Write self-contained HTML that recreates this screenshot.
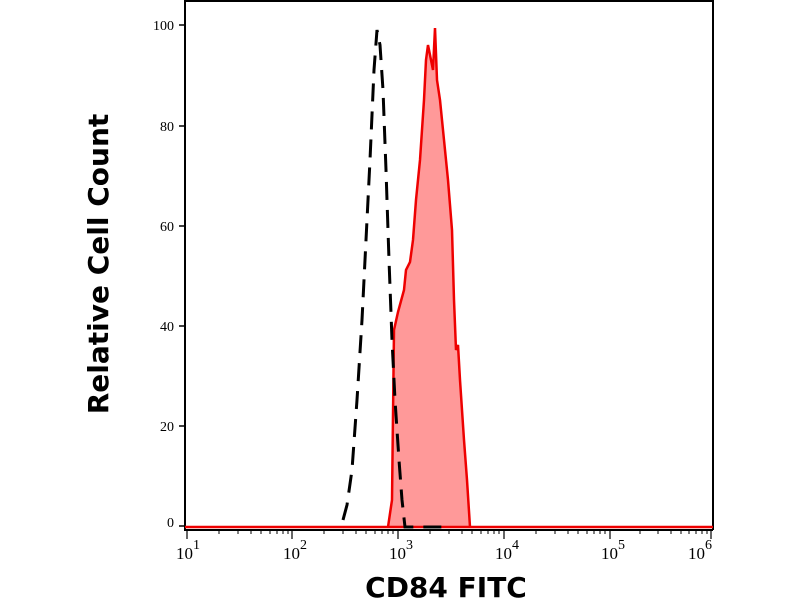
<!DOCTYPE html>
<html><head><style>body{margin:0;background:#fff}</style></head><body>
<svg width="800" height="600" xmlns="http://www.w3.org/2000/svg">
<rect width="800" height="600" fill="#fff"/>
<path d="M185,1 H713 V530" stroke="#000" stroke-width="2" fill="none"/>
<path d="M185,0 V530 H713" stroke="#000" stroke-width="2" fill="none"/>
<g stroke="#000" stroke-width="1.5">
<line x1="179" y1="526" x2="185" y2="526"/><line x1="179" y1="426" x2="185" y2="426"/>
<line x1="179" y1="326" x2="185" y2="326"/><line x1="179" y1="226" x2="185" y2="226"/>
<line x1="179" y1="126" x2="185" y2="126"/><line x1="179" y1="25" x2="185" y2="25"/>
</g>
<g font-family="Liberation Serif, serif" font-size="14" text-anchor="end">
<text x="174" y="527">0</text><text x="174" y="431">20</text><text x="174" y="331">40</text>
<text x="174" y="231">60</text><text x="174" y="131">80</text><text x="174" y="30">100</text>
</g>
<g font-family="Liberation Serif, serif" font-size="17">
<text x="176" y="559">10<tspan dy="-10" font-size="14">1</tspan></text>
<text x="283" y="559">10<tspan dy="-10" font-size="14">2</tspan></text>
<text x="389" y="559">10<tspan dy="-10" font-size="14">3</tspan></text>
<text x="495" y="559">10<tspan dy="-10" font-size="14">4</tspan></text>
<text x="601" y="559">10<tspan dy="-10" font-size="14">5</tspan></text>
<text x="688" y="559">10<tspan dy="-10" font-size="14">6</tspan></text>
</g>
<path d="M185,527 L388,527 L392,500 L394,330 L398,312 L404,290 L406,270 L410,262 L413,240 L416,200 L420,160 L424,100 L426,60 L428,45 L431,60 L433,70 L435,28 L437,80 L440,100 L444,140 L448,180 L452,230 L454,300 L456,350 L458,345 L460,380 L464,440 L467,480 L470,527 L713,527 Z" fill="#f99" stroke="#e00" stroke-width="2.5"/>
<path d="M343,520 L347,505 L352,470 L357,400 L362,320 L366,240 L370,160 L374,70 L377,30 L380,45 L383,90 L386,170 L389,260 L392,340 L395,400 L399,460 L402,500 L405,527 L408,527 L420,527 L445,527" fill="none" stroke="#000" stroke-width="3" stroke-dasharray="18,10"/>
<text transform="translate(108,264) rotate(-90)" text-anchor="middle" font-family="DejaVu Sans, sans-serif" font-weight="bold" font-size="28">Relative Cell Count</text>
<text x="446" y="597" text-anchor="middle" font-family="DejaVu Sans, sans-serif" font-weight="bold" font-size="28">CD84 FITC</text>
<g stroke="#000" stroke-width="1.2">
<line x1="187" y1="530" x2="187" y2="539"/><line x1="292" y1="530" x2="292" y2="539"/>
<line x1="398" y1="530" x2="398" y2="539"/><line x1="504" y1="530" x2="504" y2="539"/>
<line x1="610" y1="530" x2="610" y2="539"/><line x1="711" y1="530" x2="711" y2="539"/>
</g>
<g stroke="#000" stroke-width="1">
<path d="M219,530v4M238,530v4M251,530v4M261,530v4M270,530v4M277,530v4M283,530v4M288,530v4
M324,530v4M343,530v4M356,530v4M366,530v4M375,530v4M382,530v4M388,530v4M393,530v4
M430,530v4M449,530v4M462,530v4M472,530v4M481,530v4M488,530v4M494,530v4M499,530v4
M536,530v4M555,530v4M568,530v4M578,530v4M587,530v4M594,530v4M600,530v4M605,530v4
M640,530v4M658,530v4M671,530v4M681,530v4M689,530v4M696,530v4M702,530v4M707,530v4"/>
</g>
</svg>
</body></html>
